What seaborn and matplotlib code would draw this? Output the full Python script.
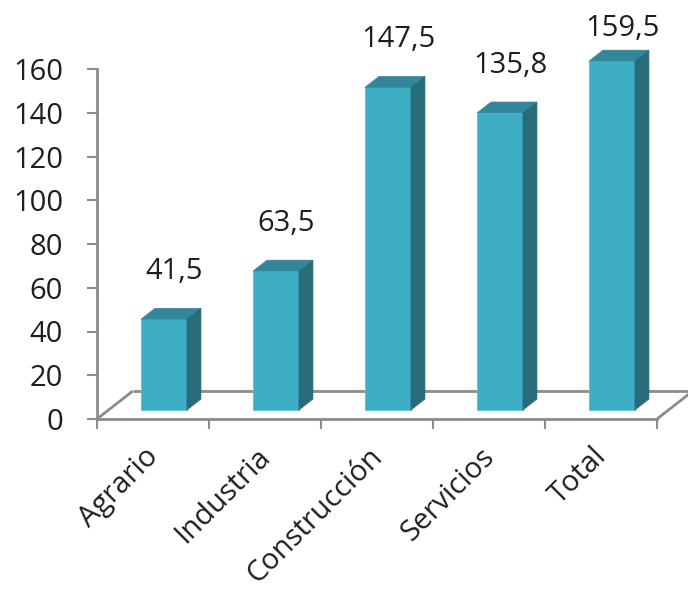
import matplotlib
matplotlib.use("Agg")
import matplotlib.pyplot as plt
import matplotlib.transforms as mtransforms
from matplotlib.patches import Polygon
import seaborn as sns
import pandas as pd

categories = ["Agrario", "Industria", "Construcción", "Servicios", "Total"]
values = [41.5, 63.5, 147.5, 135.8, 159.5]
value_labels = ["41,5", "63,5", "147,5", "135,8", "159,5"]
yticks = [0, 20, 40, 60, 80, 100, 120, 140, 160]

sns.set_theme(style="white")
plt.rcParams["font.family"] = ["Open Sans", "DejaVu Sans"]

FRONT = "#3EAEC5"
TOP = "#33869A"
SIDE = "#276D79"
EDGE = "#62C6D8"
GRAY = "#8C8C8C"
TXT = "#1E1E1E"

fig = plt.figure(figsize=(6.88, 5.90), dpi=100)
ax = fig.add_axes([97 / 688, (590 - 419) / 590, 560 / 688, 350 / 590])

df = pd.DataFrame({"cat": categories, "val": values})
sns.barplot(data=df, x="cat", y="val", color=FRONT, width=0.41, ax=ax,
            saturation=1, edgecolor=EDGE, linewidth=0.8, zorder=3)

ax.set_xlim(-0.5, 4.5)
ax.set_ylim(0, 160)

base = 4.1        # bar base (set back on the floor)
xshift = 0.098    # depth shift of bars
dx, dy = 0.125, 5.0   # 3D depth offsets
floor_dx, floor_dy = 0.32, 12.8

# floor
fl = dict(color=GRAY, lw=2.0, clip_on=False, zorder=1, solid_capstyle="butt")
ax.plot([-0.5, -0.5 + floor_dx], [0, floor_dy], **fl)
ax.plot([-0.5 + floor_dx, 4.5 + floor_dx], [floor_dy, floor_dy], **fl)
ax.plot([4.5, 4.5 + floor_dx], [0, floor_dy], **fl)

label_cap = 178.7
for p, v, lab in zip(ax.patches, values, value_labels):
    p.set_x(p.get_x() + xshift)
    p.set_y(base)
    p.set_clip_on(False)
    x0, w = p.get_x(), p.get_width()
    y0, y1 = base, base + p.get_height()
    top = Polygon([(x0, y1), (x0 + w, y1), (x0 + w + dx, y1 + dy), (x0 + dx, y1 + dy)],
                  closed=True, facecolor=TOP, edgecolor=TOP, lw=0.5, zorder=3, clip_on=False)
    side = Polygon([(x0 + w, y0), (x0 + w + dx, y0 + dy), (x0 + w + dx, y1 + dy), (x0 + w, y1)],
                   closed=True, facecolor=SIDE, edgecolor=SIDE, lw=0.5, zorder=3, clip_on=False)
    ax.add_patch(top)
    ax.add_patch(side)
    ly = min(y1 + 21.9, label_cap)
    ax.text(x0 + w / 2 + 0.09, ly, lab, ha="center", va="center",
            fontsize=21, color=TXT, clip_on=False)

# spines
for s in ["top", "right"]:
    ax.spines[s].set_visible(False)
for s in ["left", "bottom"]:
    ax.spines[s].set_color(GRAY)
    ax.spines[s].set_linewidth(2.0)
    ax.spines[s].set_zorder(2)

ax.set_yticks(yticks)
ax.set_yticklabels([str(t) for t in yticks])
ax.tick_params(axis="y", direction="out", length=7.5, width=1.5, color=GRAY,
               labelsize=21, labelcolor=TXT, pad=17, left=True)

ax.set_xticks(range(len(categories)))
ax.set_xticklabels(categories)
ax.set_xticks([i - 0.5 for i in range(len(categories) + 1)], minor=True)
ax.tick_params(axis="x", which="major", length=0, labelsize=21, labelcolor=TXT, pad=24)
ax.tick_params(axis="x", which="minor", direction="out", length=7.5, width=1.5,
               color=GRAY, bottom=True)
offset = mtransforms.ScaledTranslation(1 / 100, 0, fig.dpi_scale_trans)
for t in ax.get_xticklabels():
    t.set_rotation(45)
    t.set_rotation_mode("anchor")
    t.set_ha("right")
    t.set_va("center")
    t.set_transform(t.get_transform() + offset)

ax.set_xlabel("")
ax.set_ylabel("")
ax.grid(False)
ax.set_facecolor("white")

fig.savefig("out.png", dpi=100, facecolor="white")
